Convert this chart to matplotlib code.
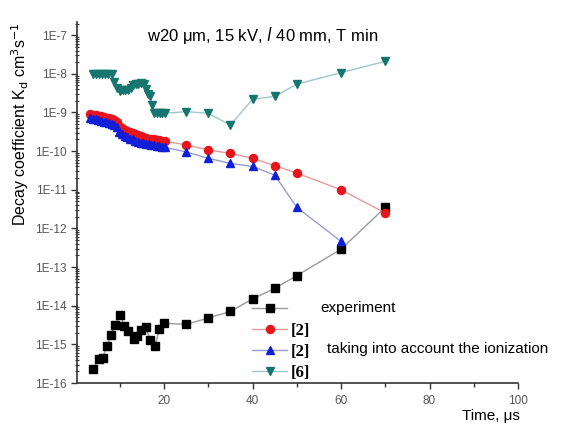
import matplotlib
matplotlib.use('Agg')
import matplotlib.pyplot as plt
from matplotlib.ticker import FixedLocator, LogLocator, NullFormatter

plt.rcParams['font.family'] = ['Liberation Sans', 'DejaVu Sans']

# ---------------------------------------------------------------------------
# Data: decay coefficient K_d (cm^3 s^-1) vs time (us)
# ---------------------------------------------------------------------------
exp_t = [3.9, 5.2, 6.1, 7.0, 8.0, 8.9, 10.1, 11.0, 11.9, 13.1, 13.8, 14.8,
         15.9, 16.8, 18.0, 18.9, 20.0, 25, 30, 35, 40, 45, 50, 60, 70]
exp_k = [2.3e-16, 4.2e-16, 4.4e-16, 9e-16, 1.7e-15, 3.2e-15, 5.8e-15,
         3.0e-15, 2.2e-15, 1.4e-15, 1.6e-15, 2.3e-15, 2.8e-15, 1.3e-15,
         9e-16, 2.5e-15, 3.5e-15, 3.3e-15, 4.8e-15, 7.1e-15, 1.5e-14,
         2.8e-14, 6.0e-14, 2.9e-13, 3.5e-12]

ref2_t = [3.3, 3.9, 4.5, 5.1, 5.7, 6.3, 6.9, 7.5, 8.1, 8.7, 9.3, 9.9, 10.5,
          11.1, 11.7, 12.3, 12.9, 13.5, 14.1, 14.7, 15.3, 15.9, 16.5, 17.1,
          17.7, 18.3, 18.9, 19.5, 20.1, 25, 30, 35, 40, 45, 50, 60, 70]
ref2_k = [9.0e-10, 8.8e-10, 8.5e-10, 8.2e-10, 7.9e-10, 7.6e-10, 7.3e-10,
          7.0e-10, 6.7e-10, 6.3e-10, 5.6e-10, 4.4e-10, 3.9e-10, 3.6e-10,
          3.3e-10, 3.1e-10, 2.9e-10, 2.7e-10, 2.55e-10, 2.4e-10, 2.3e-10,
          2.2e-10, 2.1e-10, 2.05e-10, 2.0e-10, 1.95e-10, 1.9e-10, 1.85e-10,
          1.8e-10, 1.44e-10, 1.07e-10, 8.7e-11, 6.5e-11, 4.2e-11, 2.7e-11,
          1.0e-11, 2.5e-12]

# [2] with ionization taken into account: same time grid, ends at 60 us
ref2_ion_t = ref2_t[:-1]
ref2_ion_k = [7.0e-10, 6.9e-10, 6.7e-10, 6.4e-10, 6.1e-10, 5.8e-10, 5.5e-10,
              5.2e-10, 4.9e-10, 4.6e-10, 4.1e-10, 3.2e-10, 2.8e-10, 2.5e-10,
              2.3e-10, 2.1e-10, 2.0e-10, 1.85e-10, 1.75e-10, 1.65e-10,
              1.6e-10, 1.55e-10, 1.5e-10, 1.45e-10, 1.4e-10, 1.37e-10,
              1.34e-10, 1.3e-10, 1.25e-10, 9.5e-11, 6.5e-11, 4.8e-11, 4.0e-11,
              2.4e-11, 3.5e-12, 4.6e-13]

ref6_t = [3.9, 4.6, 5.3, 6.0, 6.7, 7.4, 8.1, 8.6, 9.3, 10.0, 10.6, 11.2, 11.8,
          12.4, 13.0, 13.6, 14.2, 14.8, 15.4, 15.9, 16.4, 16.9, 17.3, 17.8,
          18.4, 19.0, 19.6, 20.2, 25, 30, 35, 40, 45, 50, 60, 70]
ref6_k = [1e-8, 1e-8, 1e-8, 1e-8, 1e-8, 1e-8, 1e-8, 6e-9, 4.3e-9, 3.6e-9,
          3.7e-9, 3.7e-9, 3.8e-9, 4.2e-9, 5.0e-9, 5.5e-9, 5.6e-9, 5.7e-9,
          5.5e-9, 4.0e-9, 3.0e-9, 2.6e-9, 1.6e-9, 9.5e-10, 9.5e-10, 9.5e-10,
          9.5e-10, 9.5e-10, 1.05e-9, 9.5e-10, 4.7e-10, 2.2e-9, 2.6e-9,
          5.4e-9, 1.07e-8, 2.1e-8]

y_decades = list(range(-16, -6))
y_ticklabels = [f'1E{d}' for d in y_decades]
x_ticks = [20, 40, 60, 80, 100]

# ---------------------------------------------------------------------------
# Figure
# ---------------------------------------------------------------------------
fig = plt.figure(figsize=(5.84, 4.28), dpi=100)
ax = fig.add_axes([77 / 584, 45 / 428, 441 / 584, 361 / 428])

ms = 5.2
l_exp, = ax.plot(exp_t, exp_k, '-', color='#9a9a9a', lw=1.0,
                 marker='s', ms=ms, mfc='black', mec='black')
l_r2, = ax.plot(ref2_t, ref2_k, '-', color='#e59a9a', lw=1.0,
                marker='o', ms=ms + 0.6, mfc='#e8141c', mec='#e8141c')
l_r2i, = ax.plot(ref2_ion_t, ref2_ion_k, '-', color='#9a9ad8', lw=1.0,
                 marker='^', ms=ms + 0.6, mfc='#1020d8', mec='#1020d8')
l_r6, = ax.plot(ref6_t, ref6_k, '-', color='#9cc8c8', lw=1.0,
                marker='v', ms=ms + 0.6, mfc='#17756f', mec='#17756f')

ax.set_yscale('log')
ax.set_xlim(0.3, 100)
ax.set_ylim(1e-16, 10 ** -6.66)

ax.spines['top'].set_visible(False)
ax.spines['right'].set_visible(False)
for sp in ('left', 'bottom'):
    ax.spines[sp].set_linewidth(1.2)
    ax.spines[sp].set_color('#333333')

ax.yaxis.set_major_locator(FixedLocator([10.0 ** d for d in y_decades]))
ax.set_yticklabels(y_ticklabels)
ax.yaxis.set_minor_locator(LogLocator(base=10, subs=range(2, 10), numticks=30))
ax.yaxis.set_minor_formatter(NullFormatter())
ax.set_xticks(x_ticks)
ax.set_xticks([10, 30, 50, 70, 90], minor=True)

ax.tick_params(axis='both', which='major', direction='out', length=4,
               width=1.0, color='#333333', labelsize=8.5,
               labelcolor='#555555')
ax.tick_params(axis='y', which='minor', direction='inout', length=3,
               width=0.8, color='#333333')
ax.tick_params(axis='x', which='minor', direction='out', length=3,
               width=1.0, color='#333333')
ax.tick_params(axis='x', which='major', pad=5)

fig.text(20 / 584, 1 - 124 / 428,
         r'Decay coefficient K$_{\rm d}$ cm$^{3}$s$^{-1}$',
         rotation=90, ha='center', va='center', fontsize=11.5)
fig.text(520 / 584, 1 - 416 / 428, 'Time, μs', ha='right', va='center',
         fontsize=11)
fig.text(147 / 584, 1 - 35 / 428,
         r'w20 μm, 15 kV, $\it{l}$ 40 mm, T min',
         ha='left', va='center', fontsize=12)

leg = ax.legend([l_exp, l_r2, l_r2i, l_r6], ['', '[2]', '[2]', '[6]'],
                loc='upper left', bbox_to_anchor=(252 / 584, 1 - 302 / 428),
                bbox_transform=fig.transFigure, frameon=False,
                prop={'family': 'Liberation Serif', 'weight': 'bold',
                      'size': 12},
                handlelength=2.1, handletextpad=0.2, labelspacing=0.3,
                borderpad=0, borderaxespad=0)

fig.text(320 / 584, 1 - 308 / 428, 'experiment', ha='left', va='center',
         fontsize=11)
fig.text(327 / 584, 1 - 349 / 428, 'taking into account the ionization',
         ha='left', va='center', fontsize=11)

fig.savefig('out.png', dpi=100)
